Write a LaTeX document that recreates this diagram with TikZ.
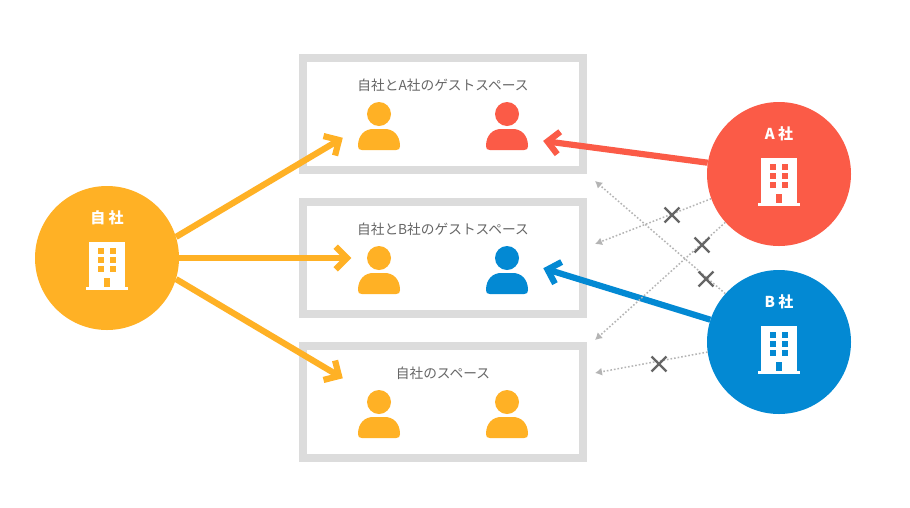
\documentclass[tikz,border=0pt]{standalone}
\usepackage{fontspec}
\setmainfont{Noto Sans CJK JP}
\usetikzlibrary{arrows.meta,calc}
\definecolor{cOrange}{HTML}{FFB125}
\definecolor{cRed}{HTML}{FB5B47}
\definecolor{cBlue}{HTML}{0389D3}
\definecolor{cFrame}{HTML}{DCDCDC}
\definecolor{cText}{HTML}{666666}
\definecolor{cDot}{HTML}{B4B4B4}
\definecolor{cCross}{HTML}{666666}
\tikzset{
  x=1pt,y=-1pt,
  roombox/.style={draw=cFrame,line width=8pt,fill=white,minimum width=280pt,minimum height=112pt,inner sep=0pt},
  roomtitle/.style={text=cText,font=\fontsize{13.7}{15}\selectfont,inner sep=0pt},
  company/.style={circle,fill=#1,minimum size=144pt,inner sep=0pt},
  companyname/.style={text=white,font=\fontsize{15}{17}\selectfont\bfseries,inner sep=0pt},
  bigarrow/.style={draw=#1,line width=6.2pt,miter limit=10},
  deny/.style={draw=cDot,line width=1.5pt,dash pattern=on 1.6pt off 2pt,-{Latex[length=7pt,width=8pt,fill=cDot]}},
  crossmark/.style={inner sep=0pt,minimum size=14.5pt}
}
% #1 start, #2 vertex of the arrow head, #3 colour
\newcommand{\bigconnector}[3]{%
  \draw[bigarrow=#3] (#1) -- (#2);
  \draw[bigarrow=#3] ($(#2)!16pt!45:(#1)$) -- (#2) -- ($(#2)!16pt!-45:(#1)$);
}
% #1 x, #2 y, #3 colour : person, (x,y)=head centre
\newcommand{\personicon}[3]{%
  \fill[#3] (#1,#2) circle (12);
  \fill[#3] (#1-21,#2+32) .. controls (#1-21,#2+21) and (#1-14,#2+15) .. (#1-6,#2+15)
     -- (#1+6,#2+15) .. controls (#1+14,#2+15) and (#1+21,#2+21) .. (#1+21,#2+32)
     .. controls (#1+21,#2+35) and (#1+20,#2+36) .. (#1+17,#2+36)
     -- (#1-17,#2+36) .. controls (#1-20,#2+36) and (#1-21,#2+35) .. (#1-21,#2+32) -- cycle;
}
% #1 x, #2 y, #3 colour : building, (x,y)=circle centre
\newcommand{\buildingicon}[3]{%
  \fill[white] (#1-18,#2-16) rectangle (#1+18,#2+29);
  \fill[white] (#1-21,#2+29) rectangle (#1+21,#2+32);
  \foreach \wy in {-10,-1,8}{%
    \fill[#3] (#1-9,#2+\wy) rectangle ++(6,6);
    \fill[#3] (#1+3,#2+\wy) rectangle ++(6,6);
  }
  \fill[#3] (#1-3,#2+20) rectangle (#1+3,#2+29);
}
\begin{document}
\begin{tikzpicture}
\useasboundingbox (0,0) rectangle (910,507);
\fill[white] (0,0) rectangle (910,507);

\node[roombox] (room1) at (443,114) {};
\node[roombox] (room2) at (443,258) {};
\node[roombox] (room3) at (443,402) {};
\node[roomtitle] (title1) at (443,85) {自社とA社のゲストスペース};
\node[roomtitle] (title2) at (443,229) {自社とB社のゲストスペース};
\node[roomtitle] (title3) at (443,373) {自社のスペース};

\personicon{379}{114}{cOrange}
\personicon{507}{114}{cRed}
\personicon{379}{258}{cOrange}
\personicon{507}{258}{cBlue}
\personicon{379}{402}{cOrange}
\personicon{507}{402}{cOrange}

\node[company=cOrange] (self) at (107,258) {};
\node[company=cRed] (compA) at (779,174) {};
\node[company=cBlue] (compB) at (779,342) {};
\node[companyname] (selfname) at (107,218) {自 社};
\node[companyname] (nameA) at (779,134) {A 社};
\node[companyname] (nameB) at (779,302) {B 社};
\buildingicon{107}{258}{cOrange}
\buildingicon{779}{174}{cRed}
\buildingicon{779}{342}{cBlue}

\coordinate (t1) at (339,140);
\coordinate (t2) at (347,258);
\coordinate (t3) at (339,376);
\coordinate (t4) at (547.5,141.5);
\coordinate (t5) at (547.5,269.5);
\bigconnector{self.17}{t1}{cOrange}
\bigconnector{self.east}{t2}{cOrange}
\bigconnector{self.-17}{t3}{cOrange}
\bigconnector{compA.171}{t4}{cRed}
\bigconnector{compB.162}{t5}{cBlue}

\coordinate (d1) at (595,244);
\coordinate (d2) at (595,340);
\coordinate (d3) at (595,181);
\coordinate (d4) at (595,373);
\draw[deny] (compA.200) -- (d1);
\draw[deny] (compA.222) -- (d2);
\draw[deny] (compB.138) -- (d3);
\draw[deny] (compB.188) -- (d4);

\foreach \n/\px/\py in {x1/672/215,x2/702/245,x3/706/279,x4/659/364}{
  \node[crossmark] (\n) at (\px,\py) {};
  \draw[cCross,line width=2.4pt] (\n.north west) -- (\n.south east);
  \draw[cCross,line width=2.4pt] (\n.north east) -- (\n.south west);
}
\end{tikzpicture}
\end{document}
